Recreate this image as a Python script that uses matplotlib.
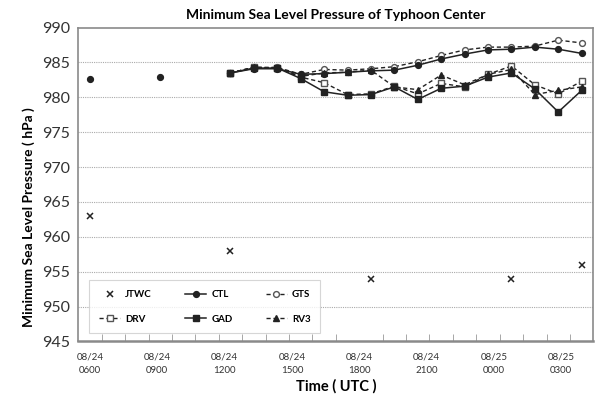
import numpy as np
import matplotlib
matplotlib.use("Agg")
import matplotlib.pyplot as plt

plt.rcParams['font.family'] = ['Lato', 'DejaVu Sans']

# hours since 08/24 0000 (24 = 08/25 0000)
hours_all = list(range(6, 28))
hours_run = list(range(12, 28))
nan = np.nan

jtwc_hours = [6, 12, 18, 24, 27]
jtwc = [963, 958, 954, 954, 956]

ctl_all = [982.6, nan, nan, 982.9, nan, nan,
           983.5, 984.1, 984.1, 983.3, 983.4, 983.6, 983.8, 983.9,
           984.6, 985.5, 986.2, 986.8, 986.9, 987.2, 986.9, 986.3]
gts = [983.5, 984.3, 984.3, 983.3, 984.0, 983.9, 984.1, 984.4,
       985.1, 986.0, 986.8, 987.2, 987.2, 987.35, 988.2, 987.8]
drv = [983.5, 984.3, 984.2, 982.9, 982.1, 980.4, 980.5, 981.6,
       980.5, 982.0, 981.5, 983.3, 984.5, 981.8, 980.5, 982.3]
gad = [983.5, 984.2, 984.2, 982.7, 980.8, 980.3, 980.4, 981.5,
       979.7, 981.3, 981.6, 982.9, 983.5, 981.2, 977.9, 981.0]
rv3 = [983.5, 984.3, 984.2, 983.0, 983.5, 983.6, 983.9, 981.5,
       981.1, 983.2, 981.8, 983.3, 984.0, 980.4, 981.0, 981.5]

tick_labels = ["08/24\n0600", "08/24\n0900", "08/24\n1200", "08/24\n1500",
               "08/24\n1800", "08/24\n2100", "08/25\n0000", "08/25\n0300"]

fig = plt.figure(figsize=(6.05, 4.01), dpi=100)
ax = fig.add_axes([0.1294, 0.1484, 0.8514, 0.7828])

lc = '#222222'
ms = 4.2
dash = (0, (3, 2))
ax.plot(jtwc_hours, jtwc, linestyle='none', marker='x', color=lc, ms=5, mew=1.1, label='JTWC', zorder=5)
ax.plot(hours_all, ctl_all, '-', marker='o', color=lc, lw=1.1, ms=ms, label='CTL', zorder=4)
ax.plot(hours_run, gts, ls=dash, marker='o', color=lc, mfc='white', mec='#555555', lw=1.0, ms=ms, label='GTS', zorder=3)
ax.plot(hours_run, drv, ls=dash, marker='s', color=lc, mfc='white', mec='#555555', lw=1.0, ms=ms, label='DRV', zorder=3)
ax.plot(hours_run, gad, '-', marker='s', color=lc, lw=1.1, ms=ms, label='GAD', zorder=4)
ax.plot(hours_run, rv3, ls=dash, marker='^', color=lc, lw=1.0, ms=ms, label='RV3', zorder=3)

ax.set_xlim(5.5, 27.5)
ax.set_ylim(945, 990)
ax.set_yticks(np.arange(945, 991, 5))
for yv in range(950, 990, 5):
    ax.axhline(yv, color='#aaaaaa', lw=0.8, ls=(0, (1, 1)), zorder=0)

label_pos = [6 + 2.875 * k for k in range(len(tick_labels))]
ax.set_xticks(label_pos)
ax.set_xticklabels(tick_labels, fontsize=7, color='#333333', linespacing=1.6)
ax.set_xticks(np.arange(6.5, 27.5, 1), minor=True)
ax.tick_params(axis='x', which='major', length=0, pad=8)
ax.tick_params(axis='x', which='minor', direction='in', length=5, color='#999999')
ax.tick_params(axis='y', which='major', direction='in', length=0, labelsize=11.5, pad=6, colors='#333333')

for s in ax.spines.values():
    s.set_color('#8a8a8a')
    s.set_linewidth(1.2)
ax.spines['bottom'].set_linewidth(1.8)

ax.set_title('Minimum Sea Level Pressure of Typhoon Center', fontsize=10, fontweight='bold', pad=6)
ax.set_ylabel('Minimum Sea Level Pressure ( hPa )', fontsize=10, fontweight='bold')
ax.yaxis.set_label_coords(-0.084, 0.395)
ax.set_xlabel('Time ( UTC )', fontsize=10.5, fontweight='bold', labelpad=3)

handles, labels = ax.get_legend_handles_labels()
order = ['JTWC', 'DRV', 'CTL', 'GAD', 'GTS', 'RV3']
hmap = dict(zip(labels, handles))
leg = ax.legend([hmap[k] for k in order], order, ncol=3, loc='lower left',
                bbox_to_anchor=(0.012, 0.01), frameon=True, fancybox=False,
                prop={'weight': 'bold', 'size': 7}, handlelength=2.2,
                columnspacing=3.4, labelspacing=1.6, borderpad=1.0, handletextpad=0.5)
leg.get_frame().set_edgecolor('#cccccc')
leg.get_frame().set_linewidth(0.8)

fig.savefig('out.png', dpi=100)
